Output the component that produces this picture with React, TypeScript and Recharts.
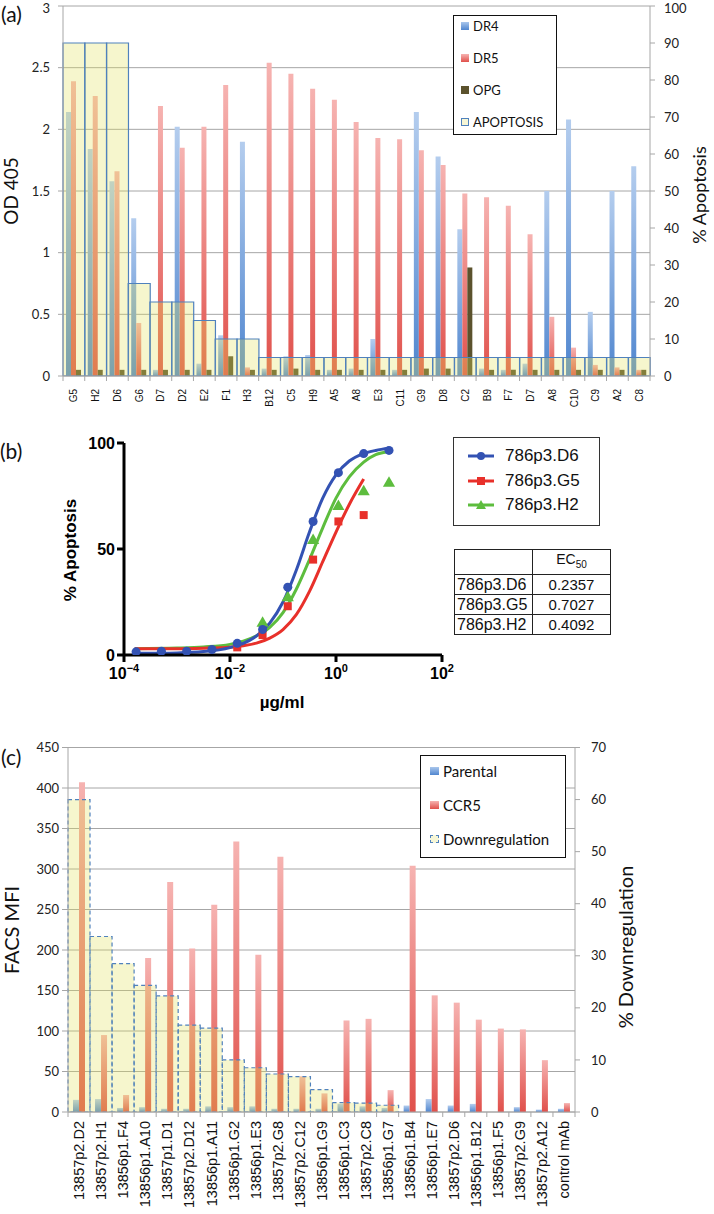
import { Bar, CartesianGrid, ComposedChart, Line, Scatter, XAxis, YAxis } from "recharts"

const excelFont = "Lato, 'Open Sans', sans-serif"
const arialFont = "'Liberation Sans', Arial, sans-serif"
const gridGray = "#a6a6a6"

// (a) ELISA binding (OD 405) and apoptosis per clone
const clonesA = ["G5", "H2", "D6", "G6", "D7", "D2", "E2", "F1", "H3", "B12", "C5", "H9", "A5", "A8", "E3", "C11", "G9", "D8", "C2", "B9", "F7", "D7", "A8", "C10", "C9", "A2", "C8"]
const dr4A = [2.14, 1.84, 1.58, 1.28, 0.05, 2.02, 0.1, 0.33, 1.9, 0.06, 0.16, 0.17, 0.05, 0.06, 0.3, 0.05, 2.14, 1.78, 1.19, 0.06, 0.05, 0.1, 1.5, 2.08, 0.52, 1.5, 1.7]
const dr5A = [2.39, 2.27, 1.66, 0.43, 2.19, 1.85, 2.02, 2.36, 0.07, 2.54, 2.45, 2.33, 2.24, 2.06, 1.93, 1.92, 1.83, 1.71, 1.48, 1.45, 1.38, 1.15, 0.48, 0.23, 0.09, 0.07, 0.05]
const opgA = [0.05, 0.05, 0.05, 0.05, 0.05, 0.05, 0.05, 0.16, 0.05, 0.05, 0.06, 0.05, 0.05, 0.05, 0.05, 0.05, 0.06, 0.06, 0.88, 0.05, 0.05, 0.05, 0.05, 0.05, 0.05, 0.05, 0.05]
const apoptosisA = [90, 90, 90, 25, 20, 20, 15, 10, 10, 5, 5, 5, 5, 5, 5, 5, 5, 5, 5, 5, 5, 5, 5, 5, 5, 5, 5]
const odTicks = [0, 0.5, 1, 1.5, 2, 2.5, 3]
const apoTicks = [0, 10, 20, 30, 40, 50, 60, 70, 80, 90, 100]

// (b) dose response, 3-fold dilutions from 10 ug/ml
const doseB = [0.000169, 0.000508, 0.00152, 0.00457, 0.0137, 0.0412, 0.123, 0.37, 1.11, 3.33, 10]
const d6B = [1.5, 1.8, 1.8, 2.6, 5.5, 12, 32, 63, 86, 95, 96.5]
const g5B = [null, null, null, null, 3.6, 9.4, 23, 45, 63, 66, null]
const h2B = [null, null, null, null, null, 15, 27, 54, 70, 77, 81]
// fitted curves
const fitDoseB = [0.00016, 0.001, 0.00316, 0.01, 0.0178, 0.0316, 0.0562, 0.1, 0.178, 0.316, 0.562, 1, 1.78, 3.33, 5.62, 10]
const fitD6B = [0.8, 1, 1.6, 3.5, 5.5, 9, 15, 25, 40, 58, 74, 85, 91.5, 95, 96.5, 97.5]
const fitG5B = [3, 3, 3.2, 3.7, 4.4, 5.6, 8, 12, 19, 30, 44, 58, 71, 83, null, null]
const fitH2B = [3, 3.3, 3.8, 5, 6.5, 9, 13, 20, 31, 45, 60, 74, 84, 91, 94.5, 96]
const decadeTicks = [0.0001, 0.01, 1, 100]
const ec50Names = ["786p3.D6", "786p3.G5", "786p3.H2"]
const ec50Values = ["0.2357", "0.7027", "0.4092"]

// (c) FACS MFI and % downregulation
const clonesC = ["13857p2.D2", "13857p2.H1", "13856p1.F4", "13856p1.A10", "13857p1.D1", "13857p2.D12", "13856p1.A11", "13856p1.G2", "13856p1.E3", "13857p2.G8", "13857p2.C12", "13856p1.G9", "13856p1.C3", "13857p2.C8", "13856p1.G7", "13856p1.B4", "13856p1.E7", "13857p2.D6", "13856p1.B12", "13856p1.F5", "13857p2.G9", "13857p2.A12", "control mAb"]
const parentalC = [15, 16, 5, 6, 4, 4, 7, 6, 7, 4, 4, 4, 10, 7, 5, 8, 16, 8, 10, 0, 6, 3, 4]
const ccr5C = [407, 95, 21, 190, 284, 202, 256, 334, 194, 315, 44, 23, 113, 115, 27, 304, 144, 135, 114, 103, 102, 64, 11]
const downregC = [60, 33.7, 28.5, 24.3, 22.3, 16.7, 16.1, 10, 8.5, 7.3, 6.8, 4.3, 1.8, 1.7, 1.3, 0, 0, 0, 0, 0, 0, 0, 0]
const mfiTicks = [0, 50, 100, 150, 200, 250, 300, 350, 400, 450]
const downTicks = [0, 10, 20, 30, 40, 50, 60, 70]

const rowsA = clonesA.map((name, i) => ({ slot: String(i), name, DR4: dr4A[i], DR5: dr5A[i], OPG: opgA[i], APOPTOSIS: apoptosisA[i] }))
const rowsC = clonesC.map((name, i) => ({ slot: String(i), name, Parental: parentalC[i], CCR5: ccr5C[i], Downregulation: downregC[i] }))

const toPoints = (xs: number[], ys: (number | null)[]) =>
  xs.map((x, i) => ({ x, y: ys[i] })).filter((p) => p.y !== null)

function CategoryTick(props: any) {
  const { x, y, payload, labels, band, fontSize, gap } = props
  const i = Number(payload.value)
  const half = band / 2
  return (
    <g>
      {i === 0 && <line x1={x - half} x2={x - half} y1={y} y2={y + 5} stroke={gridGray} />}
      <line x1={x + half} x2={x + half} y1={y} y2={y + 5} stroke={gridGray} />
      <text
        transform={`translate(${x + fontSize * 0.36},${y + gap}) rotate(-90)`}
        textAnchor="end"
        fontSize={fontSize}
        fontFamily={arialFont}
        fill="#111"
      >
        {labels[i]}
      </text>
    </g>
  )
}

function PowerTick(props: any) {
  const { x, y, payload } = props
  const exp = Math.round(Math.log10(payload.value))
  return (
    <text x={x} y={y + 15} textAnchor="middle" fontFamily={arialFont} fontWeight="bold" fontSize={16} fill="#000">
      10
      <tspan dy={-7} fontSize={11}>{exp < 0 ? `\u2212${-exp}` : String(exp)}</tspan>
    </text>
  )
}

const barGradients = (prefix: string) => (
  <defs>
    <linearGradient id={`${prefix}Blue`} x1="0" y1="0" x2="0" y2="1">
      <stop offset="0%" stopColor="#b4cdee" />
      <stop offset="100%" stopColor="#5086cf" />
    </linearGradient>
    <linearGradient id={`${prefix}Red`} x1="0" y1="0" x2="0" y2="1">
      <stop offset="0%" stopColor="#f6b3b1" />
      <stop offset="100%" stopColor="#e0504b" />
    </linearGradient>
  </defs>
)

const axisTick = { fontSize: 13, fill: "#222", fontFamily: excelFont }

const legendBox: React.CSSProperties = {
  position: "absolute",
  border: "1px solid #111",
  background: "#fff",
  fontFamily: excelFont,
  color: "#111",
}

const legendItemsA = [
  { name: "DR4", swatch: { background: "linear-gradient(#a9c6ec,#5086cf)" } },
  { name: "DR5", swatch: { background: "linear-gradient(#f6b3b1,#e0504b)" } },
  { name: "OPG", swatch: { background: "#5b522d" } },
  { name: "APOPTOSIS", swatch: { background: "#f6f6d6", border: "1px solid #4f81bd", boxSizing: "border-box" as const } },
]
const legendItemsC = [
  { name: "Parental", swatch: { background: "linear-gradient(#a9c6ec,#5086cf)" } },
  { name: "CCR5", swatch: { background: "linear-gradient(#f6b3b1,#e0504b)" } },
  { name: "Downregulation", swatch: { background: "#f6f6d6", border: "1px dashed #4f81bd", boxSizing: "border-box" as const } },
]

const seriesB = [
  { name: ec50Names[0], color: "#3352b3", shape: "circle" },
  { name: ec50Names[1], color: "#e8302a", shape: "square" },
  { name: ec50Names[2], color: "#5dbd3e", shape: "triangle" },
]

function MarkerIcon({ color, shape }: { color: string; shape: string }) {
  return (
    <svg width={26} height={12} style={{ display: "block" }}>
      <line x1={0} x2={26} y1={6} y2={6} stroke={color} strokeWidth={3} />
      {shape === "circle" && <circle cx={13} cy={6} r={4} fill={color} />}
      {shape === "square" && <rect x={9} y={2} width={8} height={8} fill={color} />}
      {shape === "triangle" && <polygon points="13,1 18,10 8,10" fill={color} />}
    </svg>
  )
}

const cell: React.CSSProperties = {
  border: "1.5px solid #222",
  height: 19,
  padding: "0 2px",
  width: 73,
  lineHeight: "19px",
}

export default function App() {
  return (
    <div style={{ position: "absolute", left: 0, top: 0, width: 714, height: 1214, background: "#fff", overflow: "hidden" }}>
      {/* (a) */}
      <div style={{ position: "absolute", left: 0, top: 0 }}>
        <ComposedChart width={714} height={430} data={rowsA} margin={{ top: 6, right: 24, bottom: 4, left: 23 }} barGap={0} barCategoryGap={0}>
          {barGradients("a")}
          <CartesianGrid vertical={false} stroke={gridGray} />
          <XAxis
            dataKey="slot"
            interval={0}
            height={50}
            tickSize={0}
            tickMargin={0}
            tickLine={false}
            axisLine={{ stroke: gridGray }}
            tick={<CategoryTick labels={clonesA} band={587 / 27} fontSize={10} gap={13} />}
          />
          <XAxis xAxisId="ov" dataKey="slot" hide />
          <YAxis domain={[0, 3]} ticks={odTicks} allowDataOverflow width={40} tickSize={5} tickMargin={8} axisLine={{ stroke: gridGray }} tickLine={{ stroke: gridGray }} tick={axisTick} />
          <YAxis yAxisId="R" orientation="right" domain={[0, 100]} ticks={apoTicks} allowDataOverflow width={40} tickSize={5} tickMargin={9} axisLine={{ stroke: gridGray }} tickLine={{ stroke: gridGray }} tick={axisTick} />
          <Bar dataKey="DR4" barSize={5} fill="url(#aBlue)" isAnimationActive={false} />
          <Bar dataKey="DR5" barSize={5} fill="url(#aRed)" isAnimationActive={false} />
          <Bar dataKey="OPG" barSize={5} fill="#5b522d" isAnimationActive={false} />
          <Bar dataKey="APOPTOSIS" xAxisId="ov" yAxisId="R" fill="#e1e15a" fillOpacity={0.3} stroke="#4f81bd" strokeWidth={1.2} isAnimationActive={false} />
        </ComposedChart>
      </div>
      <div style={{ ...legendBox, left: 453, top: 15, width: 102, height: 118, fontSize: 13 }}>
        {legendItemsA.map((item, i) => (
          <div key={item.name} style={{ position: "absolute", left: 7, top: 2 + i * 32, height: 16, display: "flex", alignItems: "center" }}>
            <span style={{ display: "inline-block", width: 8, height: 8, marginRight: 4, ...item.swatch }} />
            <span>{item.name}</span>
          </div>
        ))}
      </div>

      {/* (b) */}
      <div style={{ position: "absolute", left: 0, top: 420 }}>
        <ComposedChart width={460} height={280} margin={{ top: 23, right: 18, bottom: 5, left: 80 }}>
          <XAxis
            type="number"
            dataKey="x"
            scale="log"
            domain={[0.0001, 100]}
            ticks={decadeTicks}
            allowDataOverflow
            height={40}
            tickSize={7}
            axisLine={{ stroke: "#000", strokeWidth: 3 }}
            tickLine={{ stroke: "#000", strokeWidth: 3 }}
            tick={<PowerTick />}
          />
          <YAxis
            type="number"
            dataKey="y"
            domain={[0, 100]}
            ticks={[0, 50, 100]}
            allowDataOverflow
            width={44}
            tickSize={7}
            tickMargin={2}
            axisLine={{ stroke: "#000", strokeWidth: 3 }}
            tickLine={{ stroke: "#000", strokeWidth: 3 }}
            tick={{ fontSize: 16, fontWeight: "bold", fill: "#000", fontFamily: arialFont }}
          />
          <Line data={toPoints(fitDoseB, fitH2B)} dataKey="y" type="monotone" stroke={seriesB[2].color} strokeWidth={3} dot={false} isAnimationActive={false} />
          <Line data={toPoints(fitDoseB, fitG5B)} dataKey="y" type="monotone" stroke={seriesB[1].color} strokeWidth={3} dot={false} isAnimationActive={false} />
          <Line data={toPoints(fitDoseB, fitD6B)} dataKey="y" type="monotone" stroke={seriesB[0].color} strokeWidth={3} dot={false} isAnimationActive={false} />
          <Scatter data={toPoints(doseB, h2B)} dataKey="y" fill={seriesB[2].color} shape="triangle" isAnimationActive={false} />
          <Scatter data={toPoints(doseB, g5B)} dataKey="y" fill={seriesB[1].color} shape="square" isAnimationActive={false} />
          <Scatter data={toPoints(doseB, d6B)} dataKey="y" fill={seriesB[0].color} shape="circle" isAnimationActive={false} />
        </ComposedChart>
      </div>
      <div style={{ ...legendBox, border: "1.5px solid #333", left: 453, top: 437, width: 145, height: 87, fontFamily: arialFont, fontSize: 17 }}>
        {seriesB.map((s, i) => (
          <div key={s.name} style={{ position: "absolute", left: 14, top: 7 + i * 24.5, height: 22, display: "flex", alignItems: "center" }}>
            <MarkerIcon color={s.color} shape={s.shape} />
            <span style={{ marginLeft: 11 }}>{s.name}</span>
          </div>
        ))}
      </div>
      <table style={{ position: "absolute", left: 454, top: 549, borderCollapse: "collapse", fontFamily: arialFont, fontSize: 15, color: "#111" }}>
        <tbody>
          <tr>
            <td style={{ ...cell, height: 20 }}></td>
            <td style={{ ...cell, height: 20, textAlign: "center", fontSize: 14 }}>
              EC<sub style={{ fontSize: 10 }}>50</sub>
            </td>
          </tr>
          {ec50Names.map((n, i) => (
            <tr key={n}>
              <td style={{ ...cell, fontSize: 16 }}>{n}</td>
              <td style={{ ...cell, textAlign: "center" }}>{ec50Values[i]}</td>
            </tr>
          ))}
        </tbody>
      </table>

      {/* (c) */}
      <div style={{ position: "absolute", left: 0, top: 730 }}>
        <ComposedChart width={714} height={484} data={rowsC} margin={{ top: 17.5, right: 99, bottom: 2, left: 28 }} barGap={0} barCategoryGap={0}>
          {barGradients("c")}
          <CartesianGrid vertical={false} stroke={gridGray} />
          <XAxis
            dataKey="slot"
            interval={0}
            height={100}
            tickSize={0}
            tickMargin={0}
            tickLine={false}
            axisLine={{ stroke: gridGray }}
            tick={<CategoryTick labels={clonesC} band={507 / 23} fontSize={14.5} gap={9} />}
          />
          <XAxis xAxisId="ov" dataKey="slot" hide />
          <YAxis domain={[0, 450]} ticks={mfiTicks} allowDataOverflow width={40} tickSize={6} tickMargin={3} axisLine={{ stroke: gridGray }} tickLine={{ stroke: gridGray }} tick={axisTick} />
          <YAxis yAxisId="R" orientation="right" domain={[0, 70]} ticks={downTicks} allowDataOverflow width={40} tickSize={5} tickMargin={11} axisLine={{ stroke: gridGray }} tickLine={{ stroke: gridGray }} tick={axisTick} />
          <Bar dataKey="Parental" barSize={6} fill="url(#cBlue)" isAnimationActive={false} />
          <Bar dataKey="CCR5" barSize={6} fill="url(#cRed)" isAnimationActive={false} />
          <Bar dataKey="Downregulation" xAxisId="ov" yAxisId="R" fill="#e1e15a" fillOpacity={0.3} stroke="#4f81bd" strokeWidth={1.2} strokeDasharray="4 3" isAnimationActive={false} />
        </ComposedChart>
      </div>
      <div style={{ ...legendBox, left: 420, top: 755, width: 144, height: 101, fontSize: 15 }}>
        {legendItemsC.map((item, i) => (
          <div key={item.name} style={{ position: "absolute", left: 9, top: 5 + i * 34, height: 20, display: "flex", alignItems: "center" }}>
            <span style={{ display: "inline-block", width: 9, height: 8, marginRight: 4, ...item.swatch }} />
            <span>{item.name}</span>
          </div>
        ))}
      </div>

      {/* panel letters and axis titles */}
      <svg width={714} height={1214} style={{ position: "absolute", left: 0, top: 0, pointerEvents: "none" }}>
        <g fontFamily={excelFont} fill="#111">
          <text x={1} y={22} fontSize={21}>(a)</text>
          <text transform="translate(18,191) rotate(-90)" textAnchor="middle" fontSize={19}>OD 405</text>
          <text transform="translate(706,195) rotate(-90)" textAnchor="middle" fontSize={18}>% Apoptosis</text>
          <text x={0} y={459} fontSize={21}>(b)</text>
          <text x={1} y={765} fontSize={21}>(c)</text>
          <text transform="translate(19,930) rotate(-90)" textAnchor="middle" fontSize={20}>FACS MFI</text>
          <text transform="translate(633,947) rotate(-90)" textAnchor="middle" fontSize={20}>% Downregulation</text>
        </g>
        <g fontFamily={arialFont} fontWeight="bold" fill="#000" fontSize={17}>
          <text transform="translate(76,550) rotate(-90)" textAnchor="middle">% Apoptosis</text>
          <text x={282} y={708} textAnchor="middle">µg/ml</text>
        </g>
      </svg>
    </div>
  )
}
